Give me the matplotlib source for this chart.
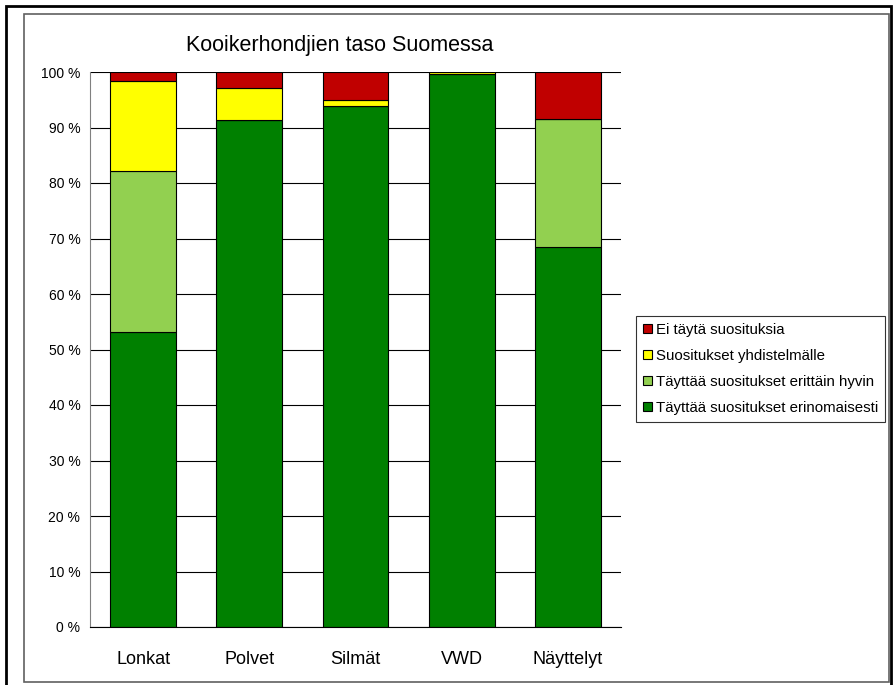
import matplotlib
matplotlib.use("Agg")
import matplotlib.pyplot as plt
from matplotlib.patches import Rectangle
import numpy as np

plt.rcParams['font.family'] = ['Liberation Sans', 'DejaVu Sans']

categories = ["Lonkat", "Polvet", "Silmät", "VWD", "Näyttelyt"]
erinomaisesti = [53.2, 91.3, 93.8, 99.6, 68.5]
erittain_hyvin = [29.0, 0.0, 0.0, 0.0, 23.0]
yhdistelmalle = [16.1, 5.8, 1.2, 0.4, 0.0]
ei_tayta = [1.7, 2.9, 5.0, 0.0, 8.5]

series = [
    ("Täyttää suositukset erinomaisesti", erinomaisesti, "#008000"),
    ("Täyttää suositukset erittäin hyvin", erittain_hyvin, "#92D050"),
    ("Suositukset yhdistelmälle", yhdistelmalle, "#FFFF00"),
    ("Ei täytä suosituksia", ei_tayta, "#C00000"),
]
yticks = [0, 10, 20, 30, 40, 50, 60, 70, 80, 90, 100]
ytick_labels = [f"{v} %" for v in yticks]

W, H = 893, 685
fig = plt.figure(figsize=(W / 100, H / 100), dpi=100)
ax = fig.add_axes([90 / W, 1 - 627 / H, (621 - 90) / W, (627 - 72) / H])

x = np.arange(len(categories))
bottom = np.zeros(len(categories))
handles = []
for name, vals, color in series:
    vals = np.array(vals)
    b = ax.bar(x, vals, width=0.62, bottom=bottom, color=color,
               edgecolor="black", linewidth=0.8, label=name, zorder=3)
    handles.append(b)
    bottom += vals

ax.set_xlim(-0.5, len(categories) - 0.5)
ax.set_ylim(0, 100)
ax.set_yticks(yticks)
ax.set_yticklabels(ytick_labels, fontsize=10)
ax.set_xticks(x)
ax.set_xticklabels(categories, fontsize=13)
ax.tick_params(axis='y', length=0, pad=7)
ax.tick_params(axis='x', length=0, pad=17)
ax.grid(axis='y', color='black', linewidth=0.8, zorder=0)
for s in ['top', 'right']:
    ax.spines[s].set_visible(False)
ax.spines['left'].set_color('#808080')
ax.spines['left'].set_zorder(4)
ax.spines['bottom'].set_color('black')
ax.spines['bottom'].set_zorder(4)

fig.text(340 / W, 1 - 45 / H, "Kooikerhondjien taso Suomessa", fontsize=15.5,
         ha='center', va='center')

leg = fig.legend(handles[::-1], [s[0] for s in series][::-1],
                 loc='center left', bbox_to_anchor=(636 / W, 1 - 369 / H),
                 fontsize=10.8, frameon=True, fancybox=False, edgecolor='black',
                 handlelength=0.6, handleheight=0.6, handletextpad=0.3,
                 labelspacing=0.8, borderpad=0.45, borderaxespad=0)
leg.get_frame().set_linewidth(0.8)

# chart area borders
fig.patches.append(Rectangle((6 / W, 1 - 695 / H), (891 - 6) / W, (695 - 6) / H,
                             transform=fig.transFigure, fill=False,
                             edgecolor='black', linewidth=2))
fig.patches.append(Rectangle((24 / W, 1 - 682 / H), (889 - 24) / W, (682 - 14) / H,
                             transform=fig.transFigure, fill=False,
                             edgecolor='#606060', linewidth=1.2))

fig.savefig("out.png", dpi=100)
